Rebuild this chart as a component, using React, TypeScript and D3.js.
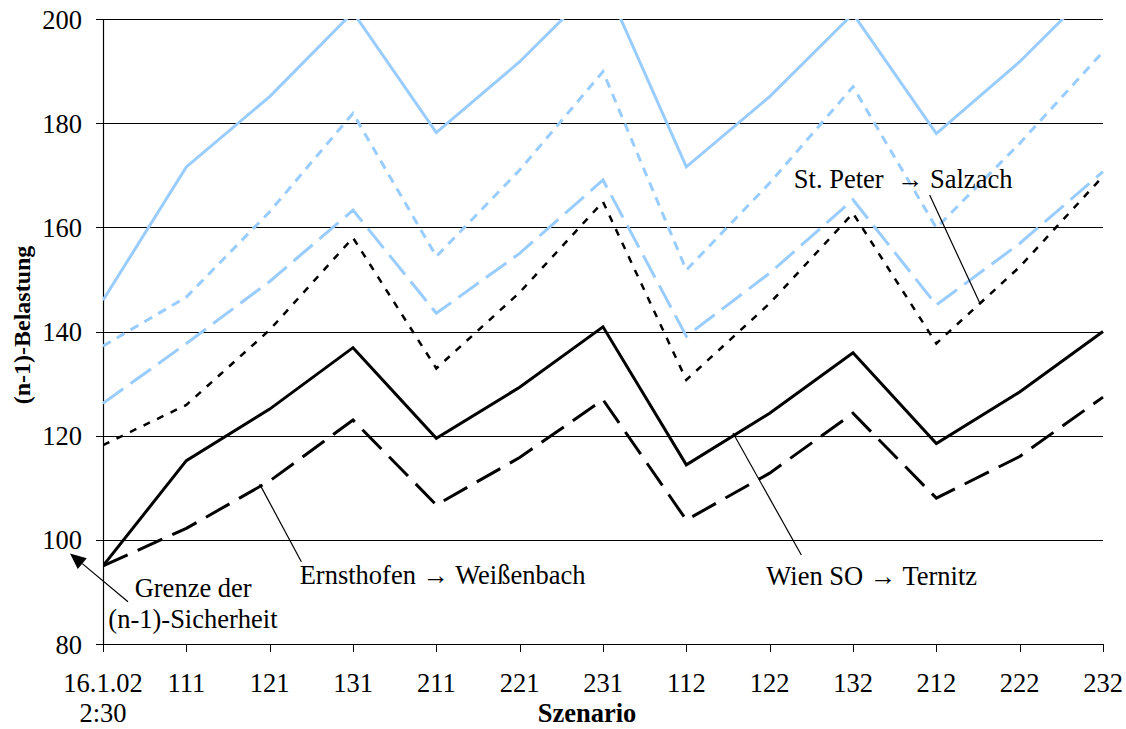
import React from "react";
import * as d3 from "d3";

const categories = ["16.1.02", "111", "121", "131", "211", "221", "231", "112", "122", "132", "212", "222", "232"];
const yTicks = [80, 100, 120, 140, 160, 180, 200];

// light blue solid
const seriesBlueSolid = [146, 171.6, 185.1, 201.3, 178.2, 191.8, 207.7, 171.6, 185.1, 201.0, 178.0, 191.8, 207.7];
// light blue short dash
const seriesBlueShort = [137.2, 146.6, 163.0, 181.9, 154.4, 171.0, 189.9, 151.8, 168.5, 187.0, 159.9, 176.1, 193.7];
// light blue long dash
const seriesBlueLong = [126.2, 137.7, 149.6, 163.3, 143.5, 155.0, 169.1, 139.1, 151.2, 165.3, 145.1, 156.9, 170.7];
// black short dash
const seriesBlackShort = [118.2, 125.9, 140.3, 158.0, 132.9, 147.5, 164.9, 130.7, 145.4, 162.7, 137.7, 152.4, 169.8];
// black solid
const seriesBlackSolid = [95.0, 115.2, 125.1, 136.9, 119.5, 129.3, 140.9, 114.4, 124.3, 135.9, 118.5, 128.4, 140.0];
// black long dash
const seriesBlackLong = [95.0, 102.2, 111.3, 123.0, 106.7, 115.8, 126.9, 103.8, 112.8, 124.3, 108.0, 116.0, 127.4];

const W = 1126;
const H = 729;
const left = 103;
const right = 1103;
const top = 19;
const bottom = 644;
const FONT = '"Liberation Serif", "DejaVu Serif", serif';
const FS = 26.5;
const BLUE = "#99CCFF";

export default function App() {
  const x = d3.scalePoint<string>().domain(categories).range([left, right]);
  const xi = d3.scaleLinear().domain([0, categories.length - 1]).range([left, right]);
  const y = d3.scaleLinear().domain([80, 200]).range([bottom, top]);

  const line = d3
    .line<number>()
    .x((_, i) => x(categories[i]) as number)
    .y((v) => y(v));

  const series = [
    { data: seriesBlueSolid, color: BLUE, dash: undefined, w: 3 },
    { data: seriesBlueShort, color: BLUE, dash: "9,7", w: 3 },
    { data: seriesBlueLong, color: BLUE, dash: "25,9", w: 3 },
    { data: seriesBlackShort, color: "#000", dash: "7,8", w: 2.5 },
    { data: seriesBlackSolid, color: "#000", dash: undefined, w: 3 },
    { data: seriesBlackLong, color: "#000", dash: "27,11", w: 3 },
  ];

  const P = (i: number, v: number) => [xi(i), y(v)] as [number, number];

  const leader = (a: [number, number], b: [number, number], key: string) => (
    <line key={key} x1={a[0]} y1={a[1]} x2={b[0]} y2={b[1]} stroke="#000" strokeWidth={1.2} />
  );

  const arrowFrom = P(0.3, 88.1);
  const arrowTo = P(-0.396, 97.4);
  const ang = Math.atan2(arrowTo[1] - arrowFrom[1], arrowTo[0] - arrowFrom[0]);
  const ah = 16;
  const aw = 7;
  const base: [number, number] = [arrowTo[0] - ah * Math.cos(ang), arrowTo[1] - ah * Math.sin(ang)];
  const headPts = [
    arrowTo,
    [base[0] + aw * Math.sin(ang), base[1] - aw * Math.cos(ang)],
    [base[0] - aw * Math.sin(ang), base[1] + aw * Math.cos(ang)],
  ]
    .map((p) => p.join(","))
    .join(" ");

  const ts = { fontFamily: FONT, fontSize: FS, whiteSpace: "pre" as const };

  return (
    <svg
      width={W}
      height={H}
      style={{ position: "absolute", left: 0, top: 0, background: "#fff", fontFamily: FONT }}
    >
      <defs>
        <clipPath id="plot">
          <rect x={left} y={top} width={right - left + 2} height={bottom - top} />
        </clipPath>
      </defs>
      <rect x={0} y={0} width={W} height={H} fill="#fff" />
      {yTicks.map((t) => (
        <line key={"g" + t} x1={left} x2={right} y1={Math.round(y(t)) + 0.5} y2={Math.round(y(t)) + 0.5} stroke="#000" strokeWidth={1} />
      ))}
      <line x1={left + 0.5} x2={left + 0.5} y1={top} y2={bottom} stroke="#000" strokeWidth={1.2} />
      <line x1={left} x2={right} y1={bottom + 0.5} y2={bottom + 0.5} stroke="#000" strokeWidth={1.2} />
      {yTicks.map((t) => (
        <g key={"yt" + t}>
          <line x1={left - 7} x2={left} y1={Math.round(y(t)) + 0.5} y2={Math.round(y(t)) + 0.5} stroke="#000" />
          <text x={82} y={y(t) + 9.5} textAnchor="end" style={ts}>
            {t}
          </text>
        </g>
      ))}
      {categories.map((c) => (
        <g key={"xt" + c}>
          <line x1={Math.round(x(c) as number) + 0.5} x2={Math.round(x(c) as number) + 0.5} y1={bottom} y2={bottom + 8} stroke="#000" />
          <text x={x(c)} y={692} textAnchor="middle" style={ts}>
            {c}
          </text>
        </g>
      ))}
      <text x={x(categories[0])} y={722} textAnchor="middle" style={ts}>
        2:30
      </text>
      <text x={587} y={722} textAnchor="middle" style={{ ...ts, fontWeight: "bold" }}>
        Szenario
      </text>
      <text
        transform={`translate(30,325) rotate(-90)`}
        textAnchor="middle"
        style={{ ...ts, fontSize: 24, fontWeight: "bold" }}
      >
        (n-1)-Belastung
      </text>

      <g clipPath="url(#plot)">
        {series.map((s, i) => (
          <path
            key={"s" + i}
            d={line(s.data) as string}
            fill="none"
            stroke={s.color}
            strokeWidth={s.w}
            strokeDasharray={s.dash}
            strokeLinejoin="miter"
          />
        ))}
      </g>

      <text x={xi(8.29)} y={y(167.6)} style={ts}>
        {"St. Peter  \u2192 Salzach"}
      </text>
      {leader(P(9.92, 166.2), P(10.52, 145.5), "l1")}

      <text x={xi(2.36)} y={y(91.5)} style={ts}>
        {"Ernsthofen \u2192 Weißenbach"}
      </text>
      {leader(P(2.38, 95.8), P(1.88, 110.7), "l2")}

      <text x={xi(7.96)} y={y(91.3)} style={ts}>
        {"Wien SO \u2192 Ternitz"}
      </text>
      {leader(P(8.38, 97.1), P(7.56, 120.5), "l3")}

      <text x={xi(0.38)} y={y(89.0)} style={ts}>
        Grenze der
      </text>
      <text x={xi(0.064)} y={y(83.0)} style={ts}>
        (n-1)-Sicherheit
      </text>
      <line x1={arrowFrom[0]} y1={arrowFrom[1]} x2={base[0]} y2={base[1]} stroke="#000" strokeWidth={1.2} />
      <polygon points={headPts} fill="#000" />
    </svg>
  );
}
